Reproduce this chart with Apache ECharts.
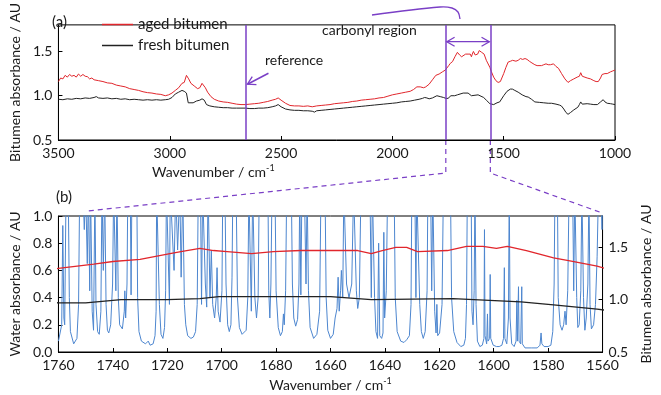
<!DOCTYPE html>
<html>
<head>
<meta charset="utf-8">
<script src="https://cdn.jsdelivr.net/npm/echarts@6/dist/echarts.min.js"></script>
<style>
  html, body { margin: 0; padding: 0; background: #fff; }
  #root { width: 661px; height: 395px; }
</style>
</head>
<body>
<div id="root"></div>
<script>
// 老化沥青 [波数, 吸光度]
var agedBitumen = [
  [3500, 1.16], [3490, 1.20], [3480, 1.19], [3470, 1.23], [3460, 1.21], [3450, 1.24], [3440, 1.22], [3430, 1.23],
  [3420, 1.21], [3410, 1.245], [3400, 1.22], [3390, 1.24], [3380, 1.22], [3370, 1.215], [3360, 1.19], [3350, 1.2],
  [3340, 1.18], [3320, 1.17], [3300, 1.16], [3280, 1.145], [3260, 1.14], [3240, 1.12], [3220, 1.11], [3200, 1.1],
  [3180, 1.08], [3160, 1.07], [3140, 1.06], [3120, 1.045], [3100, 1.035], [3080, 1.03], [3060, 1.02], [3040, 1.015],
  [3020, 1.0], [3005, 1.01], [2990, 1.03], [2975, 1.06], [2960, 1.09], [2945, 1.14], [2935, 1.15], [2925, 1.23],
  [2915, 1.19], [2905, 1.14], [2890, 1.11], [2875, 1.08], [2865, 1.09], [2855, 1.14], [2848, 1.15], [2840, 1.09],
  [2830, 1.04], [2815, 0.99], [2800, 0.96], [2780, 0.94], [2760, 0.93], [2740, 0.925], [2720, 0.915], [2700, 0.905],
  [2680, 0.9], [2660, 0.9], [2640, 0.905], [2620, 0.91], [2600, 0.915], [2580, 0.925], [2560, 0.935], [2540, 0.95],
  [2525, 0.96], [2513, 0.975], [2500, 0.95], [2480, 0.915], [2460, 0.89], [2440, 0.885], [2420, 0.885], [2400, 0.88],
  [2380, 0.885], [2360, 0.875], [2340, 0.885], [2320, 0.89], [2300, 0.895], [2280, 0.9], [2260, 0.91], [2240, 0.915],
  [2220, 0.92], [2200, 0.925], [2180, 0.935], [2160, 0.94], [2140, 0.95], [2120, 0.955], [2100, 0.96], [2080, 0.965],
  [2060, 0.975], [2040, 0.98], [2020, 0.995], [2000, 1.01], [1980, 1.02], [1960, 1.03], [1940, 1.04], [1920, 1.05],
  [1905, 1.07], [1890, 1.1], [1875, 1.1], [1860, 1.09], [1850, 1.1], [1835, 1.13], [1820, 1.18], [1805, 1.23],
  [1790, 1.245], [1775, 1.27], [1762, 1.29],
  [1760, 1.30], [1747, 1.34], [1740, 1.365], [1730, 1.385], [1719, 1.44], [1715, 1.46], [1708, 1.49], [1703, 1.47],
  [1698, 1.46], [1689, 1.44], [1681, 1.46], [1671, 1.47], [1660, 1.47], [1650, 1.47], [1645, 1.44], [1641, 1.47],
  [1636, 1.50], [1632, 1.50], [1628, 1.46], [1617, 1.47], [1610, 1.51], [1604, 1.51], [1599, 1.49], [1595, 1.51],
  [1588, 1.47], [1578, 1.40], [1572, 1.37], [1562, 1.32],
  [1555, 1.27], [1545, 1.21], [1535, 1.17], [1525, 1.15], [1515, 1.16], [1500, 1.25], [1490, 1.32], [1480, 1.38],
  [1469, 1.39], [1460, 1.4], [1452, 1.41], [1445, 1.39], [1435, 1.4], [1425, 1.42], [1415, 1.41], [1404, 1.42],
  [1395, 1.41], [1385, 1.39], [1373, 1.37], [1360, 1.35], [1350, 1.34], [1342, 1.33], [1330, 1.34], [1320, 1.35],
  [1310, 1.36], [1300, 1.35], [1290, 1.35], [1276, 1.36], [1265, 1.33], [1254, 1.31], [1240, 1.25], [1225, 1.19],
  [1211, 1.15], [1200, 1.17], [1185, 1.19], [1170, 1.21], [1160, 1.22], [1154, 1.26], [1147, 1.22], [1140, 1.21],
  [1125, 1.2], [1110, 1.19], [1095, 1.17], [1085, 1.16], [1075, 1.16], [1065, 1.2], [1058, 1.24], [1053, 1.26],
  [1045, 1.25], [1035, 1.25], [1020, 1.27], [1010, 1.28], [1000, 1.29]
];

// 新沥青
var freshBitumen = [
  [3500, 0.96], [3480, 0.955], [3460, 0.965], [3440, 0.96], [3420, 0.97], [3400, 0.965], [3380, 0.975], [3360, 0.97],
  [3340, 0.98], [3330, 0.99], [3320, 0.975], [3300, 0.97], [3280, 0.975], [3260, 0.965], [3240, 0.97], [3220, 0.96],
  [3200, 0.965], [3180, 0.955], [3160, 0.96], [3140, 0.955], [3120, 0.95], [3100, 0.955], [3080, 0.95], [3060, 0.955],
  [3040, 0.95], [3020, 0.955], [3005, 0.96], [2990, 0.98], [2975, 1.02], [2960, 1.04], [2945, 1.06], [2935, 1.05],
  [2925, 1.03], [2917, 0.92], [2910, 0.9], [2895, 0.92], [2880, 0.94], [2865, 0.95], [2855, 0.965], [2845, 0.95],
  [2835, 0.9], [2820, 0.885], [2800, 0.875], [2780, 0.87], [2760, 0.865], [2740, 0.865], [2720, 0.86], [2700, 0.86],
  [2680, 0.86], [2660, 0.86], [2640, 0.855], [2620, 0.855], [2600, 0.86], [2580, 0.86], [2560, 0.865], [2540, 0.875],
  [2525, 0.885], [2513, 0.9], [2500, 0.875], [2480, 0.85], [2460, 0.84], [2440, 0.835], [2420, 0.835], [2400, 0.83],
  [2380, 0.83], [2360, 0.825], [2350, 0.815], [2340, 0.83], [2320, 0.835], [2300, 0.84], [2280, 0.845], [2260, 0.85],
  [2240, 0.855], [2220, 0.86], [2200, 0.865], [2180, 0.87], [2160, 0.875], [2140, 0.88], [2120, 0.885], [2100, 0.89],
  [2080, 0.895], [2060, 0.9], [2040, 0.905], [2020, 0.91], [2000, 0.915], [1980, 0.92], [1960, 0.93], [1940, 0.935],
  [1920, 0.94], [1900, 0.95], [1880, 0.96], [1865, 0.97], [1855, 0.98], [1845, 0.975], [1835, 0.965], [1820, 0.975],
  [1800, 1.0], [1785, 0.99], [1770, 0.98],
  [1760, 0.97], [1750, 0.97], [1737, 1.0], [1720, 1.0], [1708, 1.01], [1701, 1.03], [1682, 1.03], [1660, 1.03],
  [1645, 1.0], [1615, 1.01], [1590, 0.98], [1578, 0.95], [1562, 0.91],
  [1556, 0.89], [1545, 0.9], [1530, 0.92], [1518, 0.93], [1500, 1.0], [1485, 1.05], [1470, 1.075], [1461, 1.075],
  [1450, 1.06], [1435, 1.04], [1417, 1.01], [1400, 0.99], [1390, 0.985], [1375, 0.96], [1360, 0.93], [1340, 0.925],
  [1320, 0.92], [1300, 0.915], [1285, 0.915], [1265, 0.905], [1250, 0.895], [1241, 0.885], [1230, 0.85], [1220, 0.81],
  [1211, 0.79], [1200, 0.81], [1185, 0.84], [1167, 0.87], [1160, 0.9], [1154, 0.93], [1147, 0.905], [1140, 0.9],
  [1125, 0.91], [1110, 0.905], [1095, 0.9], [1079, 0.9], [1065, 0.93], [1053, 0.955], [1045, 0.93], [1035, 0.915],
  [1020, 0.91], [1010, 0.905], [1000, 0.9]
];

// 水蒸气吸收谱 (1.2 = 超出刻度, 被裁掉)
var water = [
  [1760, 0.08], [1759.3, 0.07], [1758.8, 0.2], [1758.4, 0.93], [1758.0, 0.25], [1757.7, 0.2], [1757.2, 1.2], [1756.4, 1.2],
  [1756.0, 0.4], [1755.6, 0.15], [1754.4, 0.06], [1753.2, 0.1], [1752.6, 0.35], [1752.2, 1.2], [1751.0, 1.2], [1750.5, 0.9],
  [1750.0, 1.2], [1749.4, 0.65], [1749.0, 1.2], [1748.5, 0.45], [1748.2, 1.2], [1747.6, 0.3], [1747.1, 0.16], [1746.6, 1.2],
  [1746.2, 0.35], [1745.6, 0.15], [1745.0, 0.13], [1744.4, 0.3], [1744.0, 1.2], [1743.5, 0.6], [1743.0, 1.2], [1742.5, 0.35],
  [1742.0, 0.16], [1741.5, 0.14], [1740.8, 0.2], [1740.1, 0.5], [1739.7, 1.2], [1739.3, 1.2], [1738.9, 0.45], [1738.5, 1.2],
  [1738.0, 0.4], [1737.5, 0.2], [1736.5, 0.17], [1735.8, 0.3], [1735.6, 0.45], [1735.3, 0.25], [1734.8, 0.5], [1734.5, 1.2],
  [1733.6, 1.2], [1733.3, 0.42], [1733.0, 1.2], [1731.2, 1.2], [1730.9, 0.4], [1730.4, 0.15], [1729.5, 0.08], [1728, 0.06],
  [1727, 0.08], [1726.3, 0.05], [1725.2, 0.06], [1724.5, 0.12], [1724.1, 0.3], [1723.9, 1.2], [1723.2, 1.2], [1722.9, 0.35],
  [1722.3, 0.13], [1721.6, 0.1], [1721.0, 0.18], [1720.6, 0.45], [1720.3, 1.2], [1719.6, 1.2], [1719.2, 0.35], [1718.9, 1.2],
  [1718.2, 1.2], [1717.5, 0.6], [1716.9, 1.2], [1716.2, 0.75], [1715.4, 1.2], [1714.9, 0.55], [1714.3, 1.2], [1713.7, 0.35],
  [1713.2, 0.2], [1712.5, 0.12], [1711.3, 0.1], [1710.4, 0.11], [1709.6, 0.15], [1709.0, 0.35], [1708.6, 1.2], [1707.8, 1.2],
  [1707.4, 0.35], [1707.0, 1.2], [1706.4, 1.2], [1706.0, 0.5], [1705.5, 0.33], [1705.0, 1.2], [1704.3, 0.4], [1703.8, 0.75],
  [1703.3, 0.35], [1702.6, 0.25], [1702.0, 0.4], [1701.7, 0.62], [1701.3, 0.3], [1700.6, 0.22], [1699.9, 0.45], [1699.6, 1.2],
  [1698.8, 1.2], [1698.4, 0.5], [1697.8, 0.2], [1697.2, 0.15], [1696.6, 0.2], [1696.2, 0.55], [1695.9, 1.2], [1694.7, 1.2],
  [1694.2, 0.4], [1693.5, 0.18], [1692.5, 0.13], [1691.8, 0.12], [1691.0, 0.16], [1690.4, 0.4], [1690.0, 1.2], [1689.5, 1.2],
  [1689.1, 0.3], [1688.6, 1.2], [1688.2, 1.2], [1687.8, 0.4], [1687.2, 0.25], [1686.6, 0.4], [1686.2, 1.2], [1683.0, 1.2],
  [1682.7, 0.45], [1682.3, 0.25], [1681.9, 0.5], [1681.5, 1.2], [1680.4, 1.2], [1680.0, 0.45], [1679.2, 0.18], [1678.4, 0.12],
  [1677.7, 0.15], [1677.3, 0.28], [1677.0, 0.2], [1676.5, 0.45], [1676.1, 1.2], [1674.4, 1.2], [1674.0, 0.5], [1673.5, 0.25],
  [1672.8, 0.19], [1672.1, 0.24], [1671.6, 0.5], [1671.3, 1.2], [1670.9, 0.42], [1670.5, 1.2], [1669.6, 1.2], [1669.0, 0.5],
  [1668.6, 1.2], [1668.1, 0.45], [1667.5, 0.18], [1666.2, 0.1], [1665.0, 0.13], [1664.0, 0.3], [1663.5, 1.2], [1662.0, 1.2],
  [1661.6, 0.4], [1661.0, 0.16], [1660.0, 0.1], [1659.0, 0.13], [1658.3, 0.25], [1657.6, 0.32], [1657.2, 0.55], [1656.8, 0.3],
  [1656.3, 0.45], [1656.0, 0.6], [1655.5, 0.4], [1655.1, 1.2], [1654.5, 1.2], [1654.1, 0.5], [1653.2, 0.4], [1652.2, 0.5],
  [1651.5, 1.2], [1650.9, 1.2], [1650.5, 0.45], [1650.0, 0.32], [1649.4, 0.4], [1648.8, 1.2], [1645.5, 1.2], [1645.0, 0.4],
  [1644.6, 1.2], [1644.2, 1.2], [1643.8, 0.4], [1643.3, 0.15], [1642.7, 0.1], [1642.3, 0.8], [1641.9, 0.12], [1641.2, 0.1],
  [1640.7, 0.14], [1640.4, 0.88], [1640.1, 0.25], [1639.5, 0.45], [1639.0, 1.2], [1636.6, 1.2], [1636.2, 0.4], [1635.5, 0.15],
  [1634.2, 0.08], [1633.0, 0.07], [1632.0, 0.09], [1631.0, 0.12], [1630.4, 0.35], [1630.1, 1.2], [1629.0, 1.2], [1628.6, 0.4],
  [1628.3, 1.2], [1627.6, 1.2], [1627.2, 0.35], [1626.6, 0.15], [1625.9, 0.1], [1625.2, 0.15], [1624.5, 0.45], [1624.2, 1.2],
  [1623.2, 1.2], [1622.8, 0.45], [1622.4, 1.2], [1621.7, 0.3], [1621.2, 0.14], [1620.9, 0.35], [1620.6, 0.12], [1619.9, 0.14],
  [1619.0, 0.35], [1618.5, 1.2], [1615.9, 1.2], [1615.5, 0.4], [1614.7, 0.15], [1613.5, 0.07], [1612.1, 0.04], [1611.0, 0.05],
  [1610.4, 0.1], [1610.0, 0.35], [1609.7, 1.2], [1608.3, 1.2], [1608.0, 0.3], [1607.6, 0.2], [1607.2, 0.45], [1606.9, 1.2],
  [1606.5, 0.35], [1606.0, 0.08], [1605.1, 0.04], [1604.2, 0.05], [1603.6, 0.1], [1603.4, 0.9], [1603.2, 0.12], [1602.6, 0.06],
  [1602.3, 0.28], [1602.1, 0.08], [1601.5, 0.1], [1601.3, 0.57], [1601.1, 0.1], [1600.2, 0.05], [1599.0, 0.04], [1598.0, 0.04],
  [1597.0, 0.05], [1596.4, 0.1], [1596.1, 0.62], [1595.9, 0.1], [1595.2, 0.06], [1594.6, 0.25], [1594.3, 1.2], [1594.0, 0.25],
  [1593.4, 0.06], [1592.5, 0.04], [1591.8, 0.08], [1591.5, 0.38], [1591.3, 0.08], [1590.9, 0.48], [1590.7, 0.08], [1590.1, 0.06],
  [1589.7, 0.48], [1589.5, 0.06], [1588.5, 0.03], [1586, 0.03], [1584, 0.03], [1583.0, 0.05], [1582.6, 0.14], [1582.3, 0.06],
  [1581.5, 0.04], [1580, 0.04], [1579, 0.05], [1578.3, 0.15], [1577.8, 0.5], [1577.5, 1.2], [1576.6, 1.2], [1576.3, 0.4],
  [1575.6, 0.2], [1574.9, 0.16], [1574.3, 0.2], [1573.8, 0.3], [1573.4, 0.2], [1572.8, 0.45], [1572.3, 1.2], [1571.0, 1.2],
  [1570.6, 0.45], [1570.2, 1.2], [1569.5, 0.4], [1569.1, 0.18], [1568.6, 0.2], [1568.0, 0.45], [1567.6, 1.2], [1567.0, 0.4],
  [1566.5, 0.16], [1566.0, 0.25], [1565.4, 0.5], [1565.0, 1.2], [1564.6, 0.35], [1564.1, 0.17], [1563.3, 0.2], [1562.6, 0.35],
  [1562.0, 0.7], [1561.5, 1.2], [1560.6, 1.2], [1560.2, 0.9], [1560, 1.2]
];

// 标注位置 (波数)
var referenceWn = 2660;
var carbonylRange = [1760, 1560];

var FONT = 'Lato';
var PURPLE = '#7a3fc6';
var RED = '#e1262c';
var BLACK = '#222';
var BLUE = '#4d86cf';

function baseAxis(extra, labelFmt) {
  var ax = {
    type: 'value',
    axisLine: {show: true, lineStyle: {color: '#000', width: 1}},
    axisTick: {show: true, inside: true, length: 4, lineStyle: {color: '#000'}},
    splitLine: {show: false},
    axisLabel: {color: '#1a1a1a', fontSize: 14, fontFamily: FONT, margin: 6, formatter: labelFmt},
    nameTextStyle: {color: '#1a1a1a', fontSize: 14, fontFamily: FONT}
  };
  for (var k in extra) ax[k] = extra[k];
  return ax;
}
function oneDec(v) { return v.toFixed(1); }
function plain(v) { return String(v); }

var supRich = {sup: {fontSize: 9, fontFamily: FONT, color: '#1a1a1a', padding: [0, 0, 8, 0]}};

var option = {
  animation: false,
  backgroundColor: '#fff',
  grid: [
    {left: 44, right: 46, top: 4, height: 136, show: true, borderColor: '#000', borderWidth: 1},
    {left: 43, right: 45, top: 216, height: 136, show: true, borderColor: '#000', borderWidth: 1}
  ],
  legend: {
    orient: 'vertical', left: 102, top: 17, padding: 0, icon: 'rect', itemWidth: 31, itemHeight: 1.5, itemGap: 6,
    textStyle: {fontSize: 15, fontFamily: FONT, color: '#1a1a1a'},
    data: ['aged bitumen', 'fresh bitumen']
  },
  xAxis: [
    baseAxis({gridIndex: 0, min: 1000, max: 3500, interval: 500, inverse: true}, plain),
    baseAxis({gridIndex: 1, min: 1560, max: 1760, interval: 20, inverse: true,
      name: 'Wavenumber / cm{sup|-1}', nameLocation: 'middle', nameGap: 25,
      nameTextStyle: {color: '#1a1a1a', fontSize: 14, fontFamily: FONT, rich: supRich}}, plain)
  ],
  yAxis: [
    baseAxis({gridIndex: 0, min: 0.5, max: 1.8, interval: 0.5, name: 'Bitumen absorbance / AU',
      nameLocation: 'middle', nameGap: 31}, oneDec),
    baseAxis({gridIndex: 1, min: 0, max: 1, interval: 0.2, name: 'Water absorbance / AU',
      nameLocation: 'middle', nameGap: 31}, oneDec),
    baseAxis({gridIndex: 1, position: 'right', min: 0.5, max: 1.8, interval: 0.5,
      name: 'Bitumen absorbance / AU', nameLocation: 'middle', nameGap: 30}, oneDec)
  ],
  series: [
    {
      name: 'aged bitumen', type: 'line', xAxisIndex: 0, yAxisIndex: 0, data: agedBitumen,
      symbol: 'none', lineStyle: {color: RED, width: 1}, itemStyle: {color: RED},
      markLine: {
        silent: true, symbol: 'none', label: {show: false},
        lineStyle: {color: PURPLE, width: 1.5, type: 'solid'},
        data: [{xAxis: referenceWn}, {xAxis: carbonylRange[0]}, {xAxis: carbonylRange[1]}]
      }
    },
    {
      name: 'fresh bitumen', type: 'line', xAxisIndex: 0, yAxisIndex: 0, data: freshBitumen,
      symbol: 'none', lineStyle: {color: BLACK, width: 1}, itemStyle: {color: BLACK}
    },
    {
      name: 'water', type: 'line', xAxisIndex: 1, yAxisIndex: 1, data: water,
      symbol: 'none', lineStyle: {color: BLUE, width: 1}, itemStyle: {color: BLUE}
    },
    {
      name: 'aged bitumen', type: 'line', xAxisIndex: 1, yAxisIndex: 2, data: agedBitumen,
      symbol: 'none', lineStyle: {color: RED, width: 1.3}, itemStyle: {color: RED}
    },
    {
      name: 'fresh bitumen', type: 'line', xAxisIndex: 1, yAxisIndex: 2, data: freshBitumen,
      symbol: 'none', lineStyle: {color: BLACK, width: 1.3}, itemStyle: {color: BLACK}
    }
  ]
};
// 1.8 只是轴的上限, 不标数字
option.yAxis[0].axisLabel.showMaxLabel = false;
option.yAxis[2].axisLabel.showMaxLabel = false;

var myChart = echarts.init(document.getElementById('root'), null, {renderer: 'canvas'});
myChart.setOption(option);

// 标注: 用坐标轴换算像素
var topA = {xAxisIndex: 0, yAxisIndex: 0};
var botA = {xAxisIndex: 1, yAxisIndex: 1};
var cL = myChart.convertToPixel(topA, [carbonylRange[0], 0.5]);
var cR = myChart.convertToPixel(topA, [carbonylRange[1], 0.5]);
var bTL = myChart.convertToPixel(botA, [1760, 1]);
var bTR = myChart.convertToPixel(botA, [1560, 1]);
var arrowY = myChart.convertToPixel(topA, [1760, 1.61])[1];
var refTip = myChart.convertToPixel(topA, [referenceWn, 1.13]);
refTip[0] += 2;

function chevron(tip, ux, uy, len) {
  var c = Math.cos(Math.PI / 6), s = Math.sin(Math.PI / 6);
  var a = [tip[0] + len * (c * ux - s * uy), tip[1] + len * (s * ux + c * uy)];
  var b = [tip[0] + len * (c * ux + s * uy), tip[1] + len * (-s * ux + c * uy)];
  return {type: 'polyline', shape: {points: [a, tip, b]}, style: {stroke: PURPLE, lineWidth: 1.3, fill: null}};
}
var dash = {stroke: PURPLE, lineWidth: 1.2, lineDash: [5, 4], fill: null};
var refTail = [refTip[0] + 21, refTip[1] - 11];
var rl = Math.sqrt(21 * 21 + 11 * 11);
var txt = function (x, y, t, size) {
  return {type: 'text', x: x, y: y, z: 100, style: {text: t, font: size + 'px ' + FONT, fill: '#1a1a1a', verticalAlign: 'middle'}};
};

myChart.setOption({
  graphic: [
    {type: 'polyline', shape: {points: [[cL[0], cL[1]], [cL[0], cL[1] + 33], [bTL[0] + 29, bTL[1] - 5]]}, style: dash},
    {type: 'polyline', shape: {points: [[cR[0], cR[1]], [cR[0], cR[1] + 33], [bTR[0] - 3, bTR[1] - 4]]}, style: dash},
    {type: 'line', shape: {x1: cL[0] + 1, y1: arrowY, x2: cR[0] - 1, y2: arrowY}, style: {stroke: PURPLE, lineWidth: 1.3}},
    chevron([cL[0] + 1, arrowY], 1, 0, 9),
    chevron([cR[0] - 1, arrowY], -1, 0, 9),
    {type: 'polyline', shape: {points: [[372, 15], [440, 7], [452, 8], [458, 12], [460, 19]], smooth: 0.35},
      style: {stroke: PURPLE, lineWidth: 1.3, fill: null}},
    {type: 'line', shape: {x1: refTail[0], y1: refTail[1], x2: refTip[0], y2: refTip[1]}, style: {stroke: PURPLE, lineWidth: 1.5}},
    chevron(refTip, 21 / rl, -11 / rl, 9),
    txt(52, 22, '(a)', 15),
    txt(56, 197, '(b)', 15),
    txt(265, 60, 'reference', 14),
    txt(322, 30, 'carbonyl region', 14),
    {type: 'text', x: 152, y: 164, style: {text: 'Wavenumber / cm{sup|-1}', font: '14px ' + FONT, fill: '#1a1a1a', rich: supRich}}
  ]
});
</script>
</body>
</html>
